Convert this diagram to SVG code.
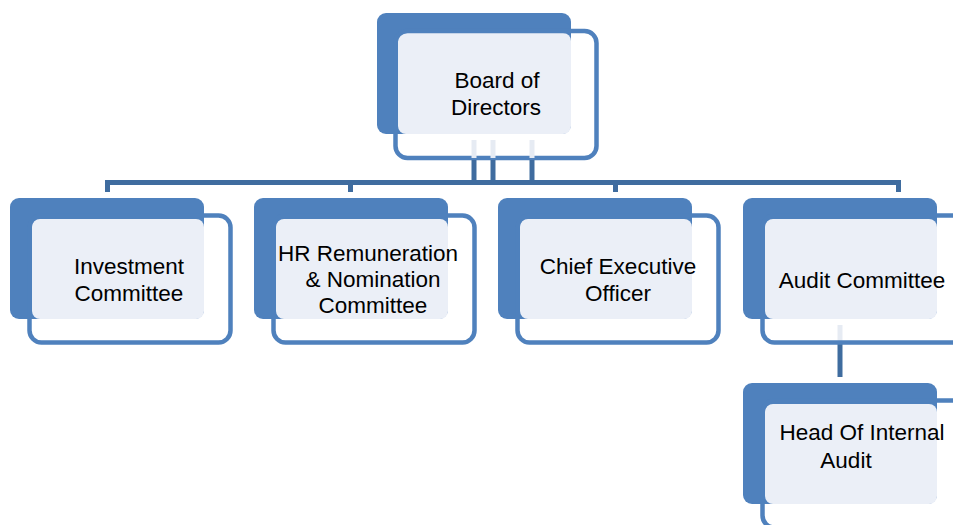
<svg xmlns="http://www.w3.org/2000/svg" width="953" height="525" viewBox="0 0 953 525">
<style>
.back{fill:#4F81BD}
.light{fill:#EBEFF7}
.outl{fill:none;stroke:#4F81BD;stroke-width:4.5}
.conn{stroke:#3F6C9F;stroke-width:5;fill:none}
.connl{stroke:#E6EBF3;stroke-width:5;fill:none}
text{font-family:"Liberation Sans",Arial,sans-serif;font-size:22.5px;fill:#000;text-anchor:middle}
</style>
<rect width="953" height="525" fill="#fff"/>
<g id="n-board">
<rect class="back" x="377" y="13" width="194" height="121" rx="9"/>
<rect class="light" x="398" y="33" width="173" height="101" rx="8"/>
<rect class="outl" x="395.5" y="31" width="201" height="127" rx="12"/>
<text x="497" y="88">Board of</text>
<text x="496" y="115">Directors</text>
</g>
<g id="connectors">
<line class="connl" x1="474" y1="140" x2="474" y2="158"/>
<line class="connl" x1="493" y1="140" x2="493" y2="158"/>
<line class="connl" x1="532" y1="140" x2="532" y2="158"/>
<line class="conn" x1="474" y1="160" x2="474" y2="182"/>
<line class="conn" x1="493" y1="160" x2="493" y2="182"/>
<line class="conn" x1="532" y1="160" x2="532" y2="182"/>
<path class="conn" d="M107.5 192 V182.5 H898.5 V192 M350.5 182.5 V192 M615.5 182.5 V192"/>
<line class="connl" x1="840" y1="325" x2="840" y2="342"/>
<line class="conn" x1="840" y1="344" x2="840" y2="377"/>
</g>
<g id="n-investment">
<rect class="back" x="10" y="198" width="194" height="121" rx="9"/>
<rect class="light" x="32" y="219" width="172" height="100" rx="8"/>
<rect class="outl" x="29.5" y="215.5" width="201" height="127" rx="12"/>
<text x="129" y="274">Investment</text>
<text x="129" y="301">Committee</text>
</g>
<g id="n-hr">
<rect class="back" x="254" y="198" width="194" height="121" rx="9"/>
<rect class="light" x="276" y="219" width="172" height="100" rx="8"/>
<rect class="outl" x="273.5" y="215.5" width="201" height="127" rx="12"/>
<text x="368" y="261">HR Remuneration</text>
<text x="373" y="287">&amp; Nomination</text>
<text x="373" y="313">Committee</text>
</g>
<g id="n-ceo">
<rect class="back" x="498" y="198" width="194" height="121" rx="9"/>
<rect class="light" x="520" y="219" width="172" height="100" rx="8"/>
<rect class="outl" x="517.5" y="215.5" width="201" height="127" rx="12"/>
<text x="618" y="274">Chief Executive</text>
<text x="618" y="301">Officer</text>
</g>
<g id="n-audit">
<rect class="back" x="743" y="198" width="194" height="121" rx="9"/>
<rect class="light" x="765" y="219" width="172" height="100" rx="8"/>
<rect class="outl" x="762.5" y="215.5" width="201" height="127" rx="12"/>
<text x="862" y="288">Audit Committee</text>
</g>
<g id="n-head">
<rect class="back" x="743" y="383" width="194" height="121" rx="9"/>
<rect class="light" x="765" y="404" width="172" height="100" rx="8"/>
<rect class="outl" x="762.5" y="400.5" width="201" height="127" rx="12"/>
<text x="862" y="440">Head Of Internal</text>
<text x="846" y="468">Audit</text>
</g>
</svg>
